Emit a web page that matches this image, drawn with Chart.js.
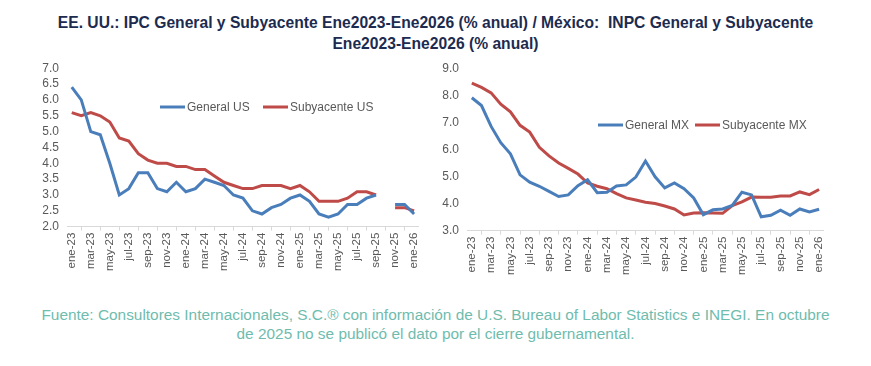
<!DOCTYPE html>
<html>
<head>
<meta charset="utf-8">
<script src="https://cdn.jsdelivr.net/npm/chart.js@4.4.1/dist/chart.umd.min.js"></script>
<style>
  body { margin: 0; background: #fff; width: 871px; height: 366px; position: relative; overflow: hidden; }
  #title { position: absolute; left: 0; top: 12px; width: 871px; text-align: center;
    font-family: "Liberation Sans", Arial, sans-serif; font-weight: bold;
    font-size: 17px; line-height: 21px; color: #1c2b4f; transform: scaleX(0.92); transform-origin: 435px 0; }
  #foot { position: absolute; left: 0; top: 305px; width: 871px; text-align: center;
    font-family: "Liberation Sans", Arial, sans-serif; font-size: 15.4px; line-height: 19px; color: #6fbcae; }
  .box { position: absolute; width: 400px; }
</style>
</head>
<body>
<div id="title">EE. UU.: IPC General y Subyacente Ene2023-Ene2026 (% anual) / México:&nbsp; INPC General y Subyacente<br>Ene2023-Ene2026 (% anual)</div>
<div class="box" style="left:30px; top:53px; height:220px"><canvas id="us"></canvas></div>
<div class="box" style="left:435px; top:53px; height:224px"><canvas id="mx"></canvas></div>
<div id="foot">Fuente: Consultores Internacionales, S.C.® con información de U.S. Bureau of Labor Statistics e INEGI. En octubre<br>de 2025 no se publicó el dato por el cierre gubernamental.</div>
<script>
const months = ["ene", "feb", "mar", "abr", "may", "jun", "jul", "ago", "sep", "oct", "nov", "dic"];
const labels = [];
for (let y = 23; y <= 26; y++) {
  for (let m = 0; m < 12; m++) {
    if (y === 26 && m > 0) break;
    labels.push(months[m] + "-" + y);
  }
}

// EE. UU. (oct-25 sin dato)
const generalUS = [6.4, 6.0, 5.0, 4.9, 4.0, 3.0, 3.2, 3.7, 3.7, 3.2, 3.1, 3.4,
  3.1, 3.2, 3.5, 3.4, 3.3, 3.0, 2.9, 2.5, 2.4, 2.6, 2.7, 2.9,
  3.0, 2.8, 2.4, 2.3, 2.4, 2.7, 2.7, 2.9, 3.0, null, 2.7, 2.7, 2.4];
const subyacenteUS = [5.6, 5.5, 5.6, 5.5, 5.3, 4.8, 4.7, 4.3, 4.1, 4.0, 4.0, 3.9,
  3.9, 3.8, 3.8, 3.6, 3.4, 3.3, 3.2, 3.2, 3.3, 3.3, 3.3, 3.2,
  3.3, 3.1, 2.8, 2.8, 2.8, 2.9, 3.1, 3.1, 3.0, null, 2.6, 2.6, 2.5];

// México
const generalMX = [7.91, 7.62, 6.85, 6.25, 5.84, 5.06, 4.79, 4.64, 4.45, 4.26, 4.32, 4.66,
  4.88, 4.40, 4.42, 4.65, 4.69, 4.98, 5.57, 4.99, 4.58, 4.76, 4.55, 4.21,
  3.59, 3.77, 3.80, 3.93, 4.42, 4.32, 3.51, 3.57, 3.76, 3.57, 3.80, 3.69, 3.79];
const subyacenteMX = [8.45, 8.29, 8.09, 7.67, 7.39, 6.89, 6.64, 6.08, 5.76, 5.50, 5.30, 5.09,
  4.76, 4.64, 4.55, 4.37, 4.21, 4.13, 4.05, 4.00, 3.91, 3.80, 3.58, 3.65,
  3.66, 3.65, 3.64, 3.93, 4.06, 4.24, 4.23, 4.23, 4.28, 4.28, 4.43, 4.33, 4.52];

const BLUE = "#4a7ebb";
const RED = "#be4b48";
const GREY = "#595959";

// leyenda dentro del área del gráfico
const inLegend = {
  id: "inLegend",
  afterDraw(chart, args, opts) {
    const ctx = chart.ctx;
    ctx.save();
    ctx.font = "12px 'Liberation Sans', Arial, sans-serif";
    ctx.textBaseline = "middle";
    chart.data.datasets.forEach((ds, i) => {
      const x = opts.x[i], y = opts.y;
      ctx.strokeStyle = ds.borderColor;
      ctx.lineWidth = 3;
      ctx.beginPath();
      ctx.moveTo(x, y);
      ctx.lineTo(x + 25, y);
      ctx.stroke();
      ctx.fillStyle = GREY;
      ctx.fillText(ds.label, x + 27, y + 1);
    });
    ctx.restore();
  }
};

function makeChart(id, names, s1, s2, min, max, step, yWidth, legend) {
  return new Chart(document.getElementById(id), {
    type: "line",
    data: {
      labels: labels,
      datasets: [
        { label: names[0], data: s1, borderColor: BLUE, borderWidth: 3, pointRadius: 0, tension: 0, spanGaps: false },
        { label: names[1], data: s2, borderColor: RED, borderWidth: 3, pointRadius: 0, tension: 0, spanGaps: false },
      ],
    },
    options: {
      responsive: true,
      maintainAspectRatio: false,
      animation: false,
      layout: { padding: { top: 4, right: 8, left: 0, bottom: 0 } },
      plugins: { legend: { display: false }, tooltip: { enabled: false }, inLegend: legend },
      scales: {
        x: {
          offset: true,
          grid: { display: true, offset: true, drawOnChartArea: false, color: "#d9d9d9", tickLength: 4 },
          border: { color: "#d9d9d9", width: 1 },
          ticks: {
            autoSkip: false,
            minRotation: 90,
            maxRotation: 90,
            padding: 2,
            color: GREY,
            font: { size: 11.5, family: "'Liberation Sans', Arial, sans-serif" },
            callback: (v, i) => (i % 2 === 0 ? labels[i] : null),
          },
        },
        y: {
          min: min,
          max: max,
          grid: { display: false, drawTicks: false },
          border: { display: false },
          afterFit: (s) => { s.width = yWidth; },
          ticks: {
            autoSkip: false,
            stepSize: step,
            padding: 8,
            color: GREY,
            font: { size: 12, family: "'Liberation Sans', Arial, sans-serif" },
            callback: (v) => v.toFixed(1),
          },
        },
      },
    },
    plugins: [inLegend],
  });
}

makeChart("us", ["General US", "Subyacente US"], generalUS, subyacenteUS, 2, 7, 0.5, 37,
  { x: [130, 233], y: 54 });
makeChart("mx", ["General MX", "Subyacente MX"], generalMX, subyacenteMX, 3, 9, 1, 32,
  { x: [163, 260], y: 72 });
</script>
</body>
</html>
